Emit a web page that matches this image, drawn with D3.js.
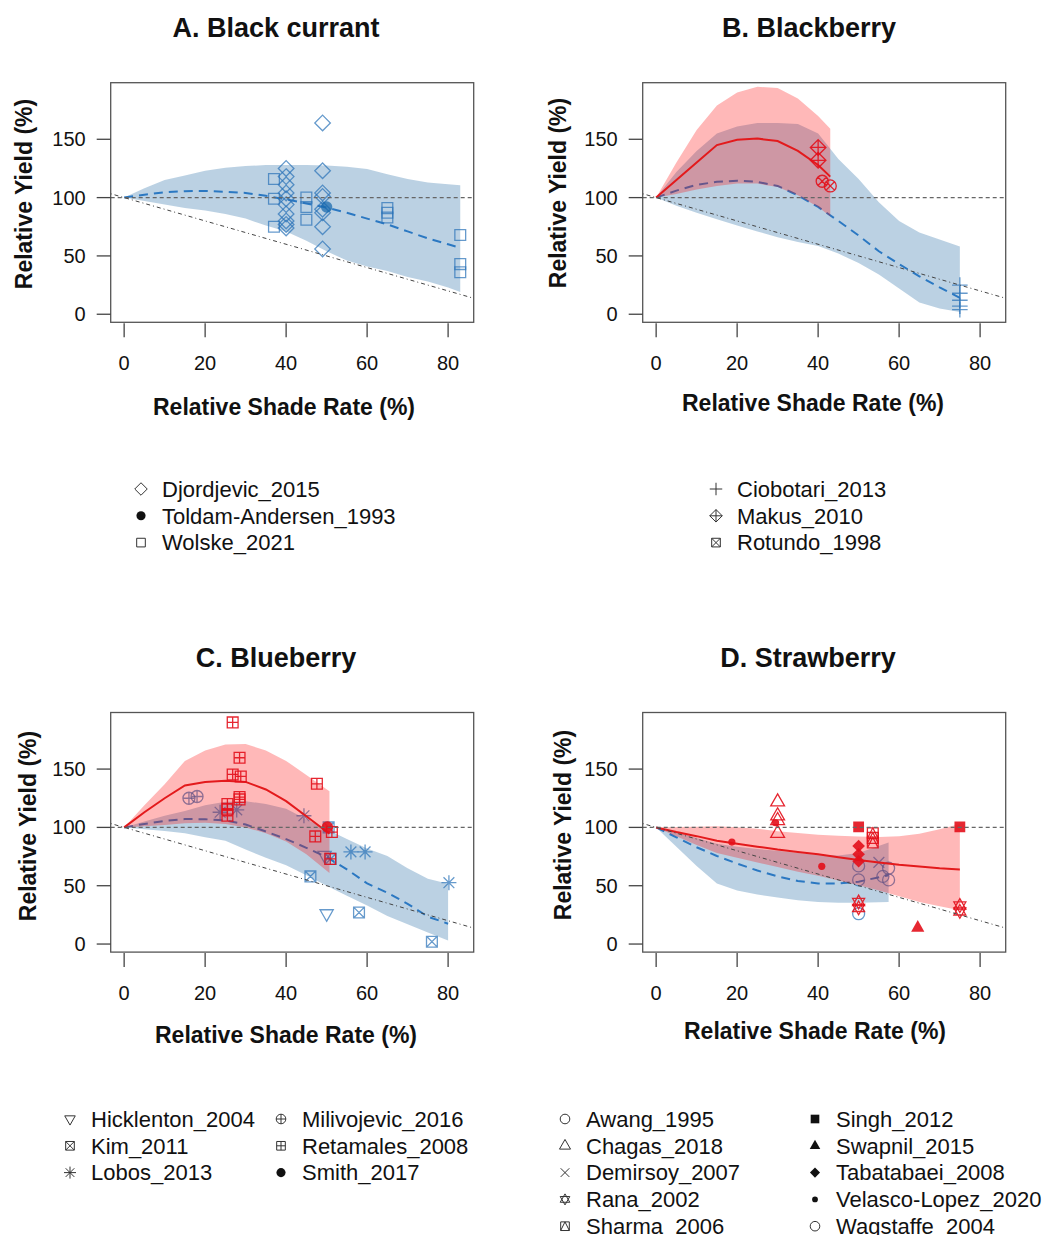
<!DOCTYPE html>
<meta charset="utf-8">
<title>Relative yield vs relative shade rate</title>
<style>
body { margin: 0; background: #fff; }
svg text { font-family: "Liberation Sans", Arial, Helvetica, sans-serif; fill: #111; }
</style>
<body>
<div id="chart"></div>
<script src="https://d3js.org/d3.v7.min.js"></script>
<script>
// axis ticks
const shadeTicks = [0, 20, 40, 60, 80];
const yieldTicks = [0, 50, 100, 150];
const xLim = [0, 83];
const yLim = [0.7, 190.9];

// A. Black currant - fitted curve (blue)
const currantX   = [0, 5, 10, 15, 20, 25, 30, 35, 40, 45, 50, 55, 60, 65, 70, 75, 80, 83];
const currantFit = [100, 102.5, 104.5, 105.5, 105.7, 105, 104, 101.5, 98.5, 95, 91.5, 87, 82, 77, 71, 65, 60, 57];
const currantLo  = [100, 97, 94, 91, 89, 86, 82, 76, 71, 63, 54, 46, 41, 37, 32, 28, 23, 19];
const currantHi  = [100, 108, 115, 119, 123, 125.5, 127, 128, 128, 128, 127.5, 126.5, 124.5, 120, 116, 113, 111.5, 110.6];

// B. Blackberry - blue and red fits
const blackberryX   = [0, 5, 10, 15, 20, 25, 30, 35, 40, 45, 50, 55, 60, 65, 70, 75];
const blackberryFit = [100, 106, 111, 113.5, 114.5, 113.5, 110, 102, 92, 80, 67.5, 54, 43, 32.5, 23, 14];
const blackberryLo  = [100, 93, 87, 81.5, 76, 71, 66, 62, 58.5, 52, 44, 34, 22, 10, 5, 2];
const blackberryHi  = [100, 122, 140, 155, 161, 164, 164, 163, 155, 133, 116, 96, 80, 70, 64, 58];
const blackberryRedX   = [0, 5, 10, 15, 20, 25, 30, 35, 40, 43];
const blackberryRedFit = [100, 115, 130, 145, 149.5, 150.6, 148.5, 140, 128, 118];
const blackberryRedLo  = [100, 103, 107, 110, 112, 112, 109, 102, 92, 84];
const blackberryRedHi  = [100, 130, 158, 179, 190, 195, 194, 185, 170, 159];

// C. Blueberry
const blueberryX   = [0, 5, 10, 15, 20, 25, 30, 35, 40, 45, 50, 55, 60, 65, 70, 75, 80];
const blueberryFit = [100, 103, 105.5, 107.2, 107, 106, 102.5, 96.5, 90, 82.5, 74.5, 64, 52, 44, 34.5, 23.5, 17.4];
const blueberryLo  = [100, 98.5, 97, 95, 91.5, 88.5, 81, 74, 67.5, 59, 50, 41.5, 33, 24, 17, 10, 3];
const blueberryHi  = [100, 105, 110, 114, 119, 122, 122.5, 120, 116, 107, 98.5, 90, 82, 75.5, 65, 56, 51.7];
const blueberryRedX   = [0, 5, 10, 15, 20, 25, 30, 35, 40, 45, 50.7];
const blueberryRedFit = [100, 113, 125, 136, 139, 140, 139, 132.5, 122.5, 109.5, 94.6];
const blueberryRedLo  = [100, 101, 102, 103.5, 104, 103, 100, 95, 88, 77, 61];
const blueberryRedHi  = [100, 119, 137, 157, 166, 171, 171.5, 166, 157, 145, 131];

// D. Strawberry
const strawberryX   = [0, 5, 10, 15, 20, 25, 30, 35, 40, 45, 50, 57.4];
const strawberryFit = [100, 91.5, 83, 75.5, 69, 63, 58, 54, 52, 52, 53.5, 59];
const strawberryLo  = [100, 83.5, 67, 52, 46, 42.5, 40, 37.5, 36, 35.5, 35.5, 36];
const strawberryHi  = [100, 96, 91, 86, 83.5, 81.5, 80, 78, 76.5, 76, 78, 87];
const strawberryRedX   = [0, 5, 10, 15, 20, 25, 30, 35, 40, 45, 50, 55, 60, 65, 70, 75];
const strawberryRedFit = [100, 96, 92.5, 88.5, 86, 83.5, 81, 79, 77, 74.5, 72, 70, 68, 66.5, 65, 64];
const strawberryRedLo  = [100, 92.5, 85, 78, 74, 70, 66, 62, 58.5, 54.5, 50.5, 46, 41, 36, 32.5, 29];
const strawberryRedHi  = [100, 100.3, 100.6, 100.9, 100.2, 98.8, 96.8, 95.2, 93.6, 92.8, 92.2, 91.8, 92.5, 94.5, 98.5, 103];

// study points [shade %, relative yield %]
const djordjevic2015 = [[40,125],[40,118],[40,111],[40,104],[40,99],[40,94],[40,86],[40,80],[40,77],[40,74],
                        [49,164],[49,123],[49,104],[49,101],[49,90],[49,87],[49,75],[49,56]];
const toldam1993 = [[50,92]];
const wolske2021 = [[37,116],[37,99],[37,75],[45,100],[45,92],[45,81],[65,91],[65,87],[65,83],[83,68],[83,43],[83,36]];

const ciobotari2013 = [[75,25],[75,18],[75,12],[75,7],[75,4]];
const makus2010 = [[40,143],[40,132]];
const rotundo1998 = [[41,114],[43,110]];

const hicklenton2004 = [[50,26],[49.5,76]];
const kim2011 = [[46,58],[58,27],[76,2],[50.5,100],[51,73]];
const lobos2013 = [[23.7,113],[27.8,115],[44.4,110],[56,79],[59.5,79],[80.2,52.6]];
const milivojevic2016 = [[16,125],[18,126.5]];
const retamales2008 = [[26.8,190],[28.5,159.7],[26.8,145.4],[28.8,143.7],[28.5,126],[28.5,124],[25.5,120],
                       [25.5,116],[25.5,110],[47.6,137.4],[47.2,92.3],[51.3,96],[50.9,73]];
const smith2017 = [[50.2,100.3]];

const awang1995 = [[50,67],[50,55],[50,26]];
const chagas2018 = [[30,122],[30,110],[30,106],[30,95]];
const demirsoy2007 = [[55,70]];
const rana2002 = [[50,36],[50,31],[75,33],[75,28]];
const sharma2006 = [[53.5,95],[53.5,91],[53.5,87]];
const singh2012 = [[50,100.5],[75,100.5]];
const swapnil2015 = [[64.6,14]];
const tabatabaei2008 = [[50,84],[50,77],[50,71]];
const velasco2020 = [[18.7,87.4],[29.5,104],[40.9,66.6]];
const wagstaffe2004 = [[57.4,65],[57.4,55],[56,58]];

const BLUE = "#2b73b9", RED = "#e3101b";

function fitRows(xs, fit, lo, hi) {
  return xs.map((x, i) => ({x: x, fit: fit[i], lo: lo[i], hi: hi[i]}));
}

const panels = [
  { title: "A. Black currant", left: 110.7, top: 82.7, titleX: 276, titleY: 28, xTitleX: 284, xTitleY: 407, yTitleX: 24, yTitleY: 194,
    blue: fitRows(currantX, currantFit, currantLo, currantHi), red: null,
    studies: [
      {name: "Djordjevic_2015", pch: 5, col: "blue", pts: djordjevic2015},
      {name: "Toldam-Andersen_1993", pch: 16, col: "blue", pts: toldam1993, color: "#1668ad"},
      {name: "Wolske_2021", pch: 0, col: "blue", pts: wolske2021}],
    legendCols: [141], legendY: 489, rows: 3 },
  { title: "B. Blackberry", left: 642.7, top: 82.7, titleX: 809, titleY: 28, xTitleX: 813, xTitleY: 403, yTitleX: 558, yTitleY: 193,
    blue: fitRows(blackberryX, blackberryFit, blackberryLo, blackberryHi),
    red: fitRows(blackberryRedX, blackberryRedFit, blackberryRedLo, blackberryRedHi),
    studies: [
      {name: "Ciobotari_2013", pch: 3, col: "blue", pts: ciobotari2013},
      {name: "Makus_2010", pch: 9, col: "red", pts: makus2010},
      {name: "Rotundo_1998", pch: 13, legendPch: 7, col: "red", pts: rotundo1998}],
    legendCols: [716], legendY: 489, rows: 3 },
  { title: "C. Blueberry", left: 110.7, top: 712.5, titleX: 276, titleY: 658, xTitleX: 286, xTitleY: 1035, yTitleX: 28, yTitleY: 826,
    blue: fitRows(blueberryX, blueberryFit, blueberryLo, blueberryHi),
    red: fitRows(blueberryRedX, blueberryRedFit, blueberryRedLo, blueberryRedHi),
    studies: [
      {name: "Hicklenton_2004", pch: 6, col: "blue", pts: hicklenton2004},
      {name: "Kim_2011", pch: 7, col: "blue", pts: kim2011},
      {name: "Lobos_2013", pch: 8, col: "blue", pts: lobos2013},
      {name: "Milivojevic_2016", pch: 10, col: "blue", pts: milivojevic2016},
      {name: "Retamales_2008", pch: 12, col: "red", pts: retamales2008},
      {name: "Smith_2017", pch: 16, col: "red", pts: smith2017}],
    legendCols: [70, 281], legendY: 1119, rows: 3 },
  { title: "D. Strawberry", left: 642.7, top: 712.5, titleX: 808, titleY: 658, xTitleX: 815, xTitleY: 1031, yTitleX: 563, yTitleY: 825,
    blue: fitRows(strawberryX, strawberryFit, strawberryLo, strawberryHi),
    red: fitRows(strawberryRedX, strawberryRedFit, strawberryRedLo, strawberryRedHi),
    studies: [
      {name: "Awang_1995", pch: 1, col: "blue", pts: awang1995},
      {name: "Chagas_2018", pch: 2, col: "red", pts: chagas2018},
      {name: "Demirsoy_2007", pch: 4, col: "blue", pts: demirsoy2007},
      {name: "Rana_2002", pch: 11, col: "red", pts: rana2002},
      {name: "Sharma_2006", pch: 14, col: "red", pts: sharma2006},
      {name: "Singh_2012", pch: 15, col: "red", pts: singh2012},
      {name: "Swapnil_2015", pch: 17, col: "red", pts: swapnil2015},
      {name: "Tabatabaei_2008", pch: 18, col: "red", pts: tabatabaei2008},
      {name: "Velasco-Lopez_2020", pch: 20, col: "red", pts: velasco2020},
      {name: "Wagstaffe_2004", pch: 1, col: "blue", pts: wagstaffe2004}],
    legendCols: [565, 815], legendY: 1119, rows: 5 }
];

const W = 1042, H = 1235;
const boxW = 363, boxH = 239.6;

const svg = d3.select("#chart").append("svg")
    .attr("width", W)
    .attr("height", H);

// R-style 4% axis padding
const padX = 0.04 * (xLim[1] - xLim[0]);
const padY = 0.04 * (yLim[1] - yLim[0]);
const x = d3.scaleLinear().domain([xLim[0] - padX, xLim[1] + padX]).range([0, boxW]);
const y = d3.scaleLinear().domain([yLim[0] - padY, yLim[1] + padY]).range([boxH, 0]);

// plotting symbols (R pch)
const sq = r => `M${-r},${-r}H${r}V${r}H${-r}Z`;
const circ = r => `M${r},0A${r},${r} 0 1,1 ${-r},0A${r},${r} 0 1,1 ${r},0Z`;
const diam = r => `M0,${-r}L${r},0L0,${r}L${-r},0Z`;
const triUp = r => `M0,${-r * 1.15}L${r},${r * 0.6}L${-r},${r * 0.6}Z`;
const triDn = r => `M0,${r * 1.15}L${r},${-r * 0.6}L${-r},${-r * 0.6}Z`;
const plus = r => `M${-r},0H${r}M0,${-r}V${r}`;
const cross = r => `M${-r},${-r}L${r},${r}M${-r},${r}L${r},${-r}`;

function symbol(pch, r) {
  switch (pch) {
    case 0: return {d: sq(r * 0.9)};
    case 1: return {d: circ(r)};
    case 2: return {d: triUp(r * 1.15)};
    case 3: return {d: plus(r * 1.3)};
    case 4: return {d: cross(r * 0.9)};
    case 5: return {d: diam(r * 1.3)};
    case 6: return {d: triDn(r * 1.1)};
    case 7: return {d: sq(r * 0.9) + cross(r * 0.9)};
    case 8: return {d: plus(r * 1.25) + cross(r * 0.9)};
    case 9: return {d: diam(r * 1.3) + plus(r * 1.3)};
    case 10: return {d: circ(r) + plus(r)};
    case 11: return {d: triUp(r) + triDn(r)};
    case 12: return {d: sq(r * 0.9) + plus(r * 0.9)};
    case 13: return {d: circ(r) + cross(r * 0.7)};
    case 14: return {d: sq(r * 0.9) + `M${-r * 0.9},${r * 0.9}L0,${-r * 0.9}L${r * 0.9},${r * 0.9}`};
    case 15: return {d: sq(r * 0.9), fill: true};
    case 16: return {d: circ(r * 0.95), fill: true};
    case 17: return {d: triUp(r * 1.1), fill: true};
    case 18: return {d: diam(r * 1.05), fill: true};
    case 20: return {d: circ(r * 0.6), fill: true};
  }
}

function drawPoints(g, list, group) {
  list.filter(s => s.col === group).forEach(s => {
    const c = s.color || (group === "blue" ? BLUE : RED);
    const sym = symbol(s.pch, 6);
    g.selectAll(null)
      .data(s.pts)
      .join("path")
        .attr("transform", d => `translate(${x(d[0])},${y(d[1])})`)
        .attr("d", sym.d)
        .attr("fill", sym.fill ? c : "none")
        .attr("stroke", sym.fill ? "none" : c)
        .attr("stroke-width", 1.3)
        .attr("opacity", group === "blue" ? 0.72 : 0.9);
  });
}

const area = d3.area().x(d => x(d.x)).y0(d => y(d.lo)).y1(d => y(d.hi));
const line = d3.line().x(d => x(d.x)).y(d => y(d.fit));

panels.forEach((p, pi) => {
  const g = svg.append("g").attr("transform", `translate(${p.left},${p.top})`);

  g.append("clipPath").attr("id", "clip" + pi)
    .append("rect").attr("width", boxW).attr("height", boxH);
  const plot = g.append("g").attr("clip-path", `url(#clip${pi})`);

  // blue fit
  plot.append("path").datum(p.blue)
      .attr("d", area)
      .attr("fill", "rgba(70,130,180,0.37)");
  plot.append("path").datum(p.blue)
      .attr("d", line)
      .attr("fill", "none")
      .attr("stroke", "#2b78c2")
      .attr("stroke-width", 2)
      .attr("stroke-dasharray", "9,6");
  drawPoints(plot, p.studies, "blue");

  // red fit
  if (p.red) {
    plot.append("path").datum(p.red)
        .attr("d", area)
        .attr("fill", "rgba(255,0,0,0.28)");
    plot.append("path").datum(p.red)
        .attr("d", line)
        .attr("fill", "none")
        .attr("stroke", "#e31a1c")
        .attr("stroke-width", 2);
  }
  drawPoints(plot, p.studies, "red");

  // reference lines: y = 100 and y = 100 - x
  const xd = x.domain();
  plot.append("line")
      .attr("x1", 0).attr("x2", boxW)
      .attr("y1", y(100)).attr("y2", y(100))
      .attr("stroke", "#666")
      .attr("stroke-width", 1.1)
      .attr("stroke-dasharray", "4,3");
  plot.append("line")
      .attr("x1", x(xd[0])).attr("y1", y(100 - xd[0]))
      .attr("x2", x(xd[1])).attr("y2", y(100 - xd[1]))
      .attr("stroke", "#444")
      .attr("stroke-width", 1)
      .attr("stroke-dasharray", "1,3,4,3");

  // box
  g.append("rect")
      .attr("width", boxW).attr("height", boxH)
      .attr("fill", "none")
      .attr("stroke", "#555")
      .attr("stroke-width", 1.3);

  // axes
  g.selectAll(null).data(yieldTicks).join("line")
      .attr("x1", -14).attr("x2", 0)
      .attr("y1", d => y(d)).attr("y2", d => y(d))
      .attr("stroke", "#444").attr("stroke-width", 1.3);
  g.selectAll(null).data(yieldTicks).join("text")
      .attr("x", -25).attr("y", d => y(d))
      .attr("dy", "0.35em")
      .attr("text-anchor", "end")
      .style("font-size", "20px")
      .text(d => d);
  g.selectAll(null).data(shadeTicks).join("line")
      .attr("x1", d => x(d)).attr("x2", d => x(d))
      .attr("y1", boxH + 1).attr("y2", boxH + 15)
      .attr("stroke", "#444").attr("stroke-width", 1.3);
  g.selectAll(null).data(shadeTicks).join("text")
      .attr("x", d => x(d)).attr("y", boxH + 41)
      .attr("dy", "0.35em")
      .attr("text-anchor", "middle")
      .style("font-size", "20px")
      .text(d => d);

  // titles
  svg.append("text")
      .attr("x", p.titleX).attr("y", p.titleY).attr("dy", "0.35em")
      .attr("text-anchor", "middle")
      .style("font-size", "27px").style("font-weight", "bold")
      .text(p.title);
  svg.append("text")
      .attr("x", p.xTitleX).attr("y", p.xTitleY).attr("dy", "0.35em")
      .attr("text-anchor", "middle")
      .style("font-size", "23px").style("font-weight", "bold")
      .text("Relative Shade Rate (%)");
  svg.append("text")
      .attr("transform", `translate(${p.yTitleX},${p.yTitleY}) rotate(-90)`)
      .attr("dy", "0.35em")
      .attr("text-anchor", "middle")
      .style("font-size", "23px").style("font-weight", "bold")
      .text("Relative Yield (%)");

  // legend
  p.studies.forEach((s, i) => {
    const col = Math.floor(i / p.rows), row = i % p.rows;
    const lx = p.legendCols[col], ly = p.legendY + row * 26.8;
    const sym = symbol(s.legendPch !== undefined ? s.legendPch : s.pch, 4.8);
    svg.append("path")
        .attr("transform", `translate(${lx},${ly})`)
        .attr("d", sym.d)
        .attr("fill", sym.fill ? "#111" : "none")
        .attr("stroke", sym.fill ? "none" : "#333")
        .attr("stroke-width", 1);
    svg.append("text")
        .attr("x", lx + 21).attr("y", ly).attr("dy", "0.35em")
        .style("font-size", "22px")
        .text(s.name);
  });
});
</script>
</body>
</html>
